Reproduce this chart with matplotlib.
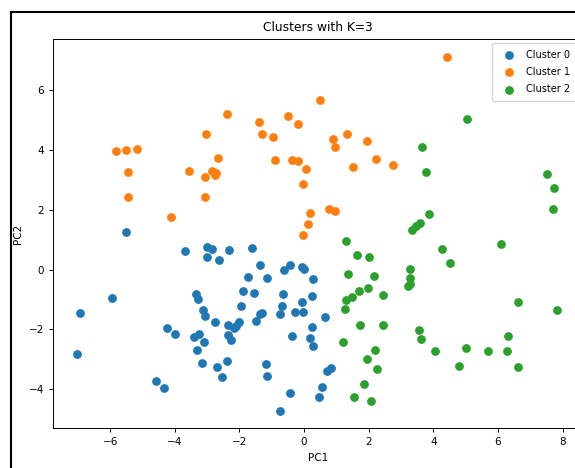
import numpy as np
import matplotlib
matplotlib.use('Agg')
import matplotlib.pyplot as plt
from matplotlib.lines import Line2D

# PCA coordinates of each cluster
c0_x = [-7.04, -6.93, -5.94, -5.50, -4.25, -4.01, -4.58, -4.35, -3.68, -3.02, -2.84, -3.00, -2.64, -2.32,
        -1.61, -1.38, -1.73, -1.16, -1.90, -1.54, -3.34, -3.27, -1.95, -3.13, -3.08, -1.31, -1.36, -1.49,
        -2.76, -2.34, -2.03, -2.12, -2.16, -3.42, -3.25, -3.11, -2.35, -2.25, -3.30, -3.15, -2.71, -2.54,
        -2.39, -1.18, -1.16, -0.44, -0.63, -0.08, 0.00, 0.27, -0.66, 0.23, -0.05, -0.68, -0.76, -0.27,
        -0.02, 0.65, 0.23, -0.38, 0.17, 0.27, 0.83, 0.70, 0.55, 0.45, -0.43, -0.75]
c0_y = [-2.84, -1.46, -0.95, 1.25, -1.97, -2.14, -3.74, -3.97, 0.63, 0.74, 0.69, 0.43, 0.32, 0.65,
        0.71, 0.15, -0.25, -0.27, -0.72, -0.79, -0.81, -0.99, -1.23, -1.37, -1.57, -1.45, -1.50, -1.71,
        -1.77, -1.86, -1.77, -1.88, -1.97, -2.27, -2.16, -2.41, -2.18, -2.37, -2.70, -3.13, -3.26, -3.60,
        -3.07, -3.15, -3.57, 0.15, -0.02, 0.09, 0.01, -0.31, -0.83, -0.88, -1.09, -1.23, -1.48, -1.42,
        -1.42, -1.60, -1.91, -2.21, -2.30, -2.56, -3.28, -3.39, -3.94, -4.27, -4.13, -4.72]

c1_x = [-5.83, -5.52, -5.18, -5.44, -5.44, -4.11, -3.57, -3.04, -3.06, -3.06, -2.67, -2.86, -2.74,
        -2.75, -2.39, -1.40, -1.31, -0.96, -0.91, -0.51, -0.38, -0.20, -0.20, 0.07, -0.02, 0.19, 0.12,
        -0.03, 0.49, 4.41, 0.88, 0.97, 1.32, 1.94, 1.50, 2.24, 2.75, 0.77, 0.95]
c1_y = [3.96, 3.99, 4.02, 3.25, 2.44, 1.76, 3.28, 4.54, 3.09, 2.44, 3.73, 3.30, 3.24,
        3.17, 5.19, 4.92, 4.52, 4.43, 3.67, 5.14, 3.67, 4.86, 3.62, 3.37, 2.86, 1.90, 1.51,
        1.14, 5.67, 7.12, 4.35, 4.10, 4.52, 4.30, 3.43, 3.70, 3.51, 2.01, 1.96]

c2_x = [5.03, 3.65, 3.76, 7.51, 7.73, 7.69, 3.87, 3.59, 3.47, 3.33, 1.29, 6.10, 4.28, 1.64, 2.01, 4.52,
        3.29, 1.35, 2.16, 3.27, 3.28, 3.23, 1.98, 1.69, 2.43, 1.48, 1.29, 1.27, 6.61, 7.83, 1.72, 2.43,
        3.55, 3.63, 6.30, 1.20, 2.18, 4.05, 5.01, 5.70, 6.28, 1.96, 4.79, 6.61, 2.26, 1.86, 1.54, 2.07]
c2_y = [5.03, 4.10, 3.25, 3.19, 2.72, 2.03, 1.85, 1.54, 1.47, 1.31, 0.94, 0.86, 0.68, 0.48, 0.43, 0.21,
        0.01, -0.14, -0.22, -0.27, -0.50, -0.55, -0.61, -0.72, -0.86, -0.92, -1.02, -1.32, -1.09, -1.37,
        -1.85, -1.85, -2.01, -2.32, -2.21, -2.41, -2.70, -2.73, -2.64, -2.73, -2.73, -3.00, -3.21, -3.25,
        -3.34, -3.84, -4.27, -4.39]

clusters = [(c0_x, c0_y), (c1_x, c1_y), (c2_x, c2_y)]
labels = ['Cluster 0', 'Cluster 1', 'Cluster 2']

fs = 7.5
fig = plt.figure(figsize=(5.75, 4.68), dpi=100)
ax = fig.add_axes([53/575, 39.7/468, 530/575, 389.3/468])

for (xs, ys), lab in zip(clusters, labels):
    ax.scatter(xs, ys, s=28, label=lab)

ax.set_xlim(-7.77, 8.63)
ax.set_ylim(-5.31, 7.71)
ax.set_xticks([-6, -4, -2, 0, 2, 4, 6, 8])
ax.set_yticks([-4, -2, 0, 2, 4, 6])
ax.tick_params(labelsize=fs, length=3, width=0.7)
for sp in ax.spines.values():
    sp.set_linewidth(0.7)

ax.set_title('Clusters with K=3', fontsize=8.8)
ax.set_xlabel('PC1', fontsize=fs)
ax.set_ylabel('PC2', fontsize=fs)
ax.legend(loc='upper right', bbox_to_anchor=(577/575, 1 - 42.7/468), bbox_transform=fig.transFigure,
          borderaxespad=0, borderpad=0.7, fontsize=7, labelspacing=0.75)

# black frame of the screenshot
fig.add_artist(Line2D([11/575, 11/575], [0, 1 - 11.5/468], transform=fig.transFigure, color='black', lw=1.5))
fig.add_artist(Line2D([11/575, 1], [1 - 11.5/468, 1 - 11.5/468], transform=fig.transFigure, color='black', lw=1.5))

fig.savefig('out.png', dpi=100)
